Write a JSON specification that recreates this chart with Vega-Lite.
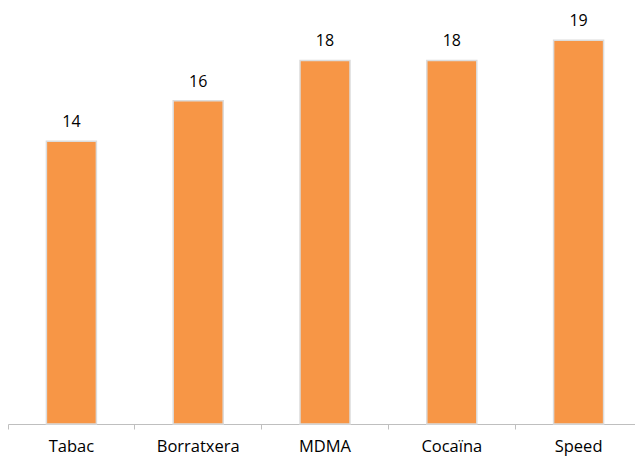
{
  "$schema": "https://vega.github.io/schema/vega-lite/v6.json",
  "width": 634,
  "height": 404,
  "autosize": "none",
  "padding": {"left": 8, "top": 20, "right": 0, "bottom": 33},
  "background": "white",
  "config": {"view": {"stroke": null}, "font": "Open Sans"},
  "data": {"values": [
    {"cat": "Tabac", "v": 14},
    {"cat": "Borratxera", "v": 16},
    {"cat": "MDMA", "v": 18},
    {"cat": "Cocaïna", "v": 18},
    {"cat": "Speed", "v": 19}
  ]},
  "encoding": {
    "x": {"field": "cat", "type": "nominal", "sort": null,
      "scale": {"paddingInner": 0, "paddingOuter": 0},
      "axis": {"title": null, "labelAngle": 0, "bandPosition": 0, "domainColor": "#bfbfbf", "tickColor": "#bfbfbf", "tickSize": 5, "labelFontSize": 16.5, "labelColor": "#000000", "labelPadding": 9, "labelFont": "Open Sans", "labelBound": false, "labelOverlap": false}},
    "y": {"field": "v", "type": "quantitative", "scale": {"domain": [0, 20]}, "axis": null}
  },
  "layer": [
    {"mark": {"type": "bar", "size": 50, "color": "#F79646", "stroke": "#dcdcdc", "strokeWidth": 1.5}},
    {"mark": {"type": "text", "dy": -19, "fontSize": 16, "color": "#000000", "font": "Open Sans"},
     "encoding": {"text": {"field": "v", "type": "quantitative"}}}
  ]
}
